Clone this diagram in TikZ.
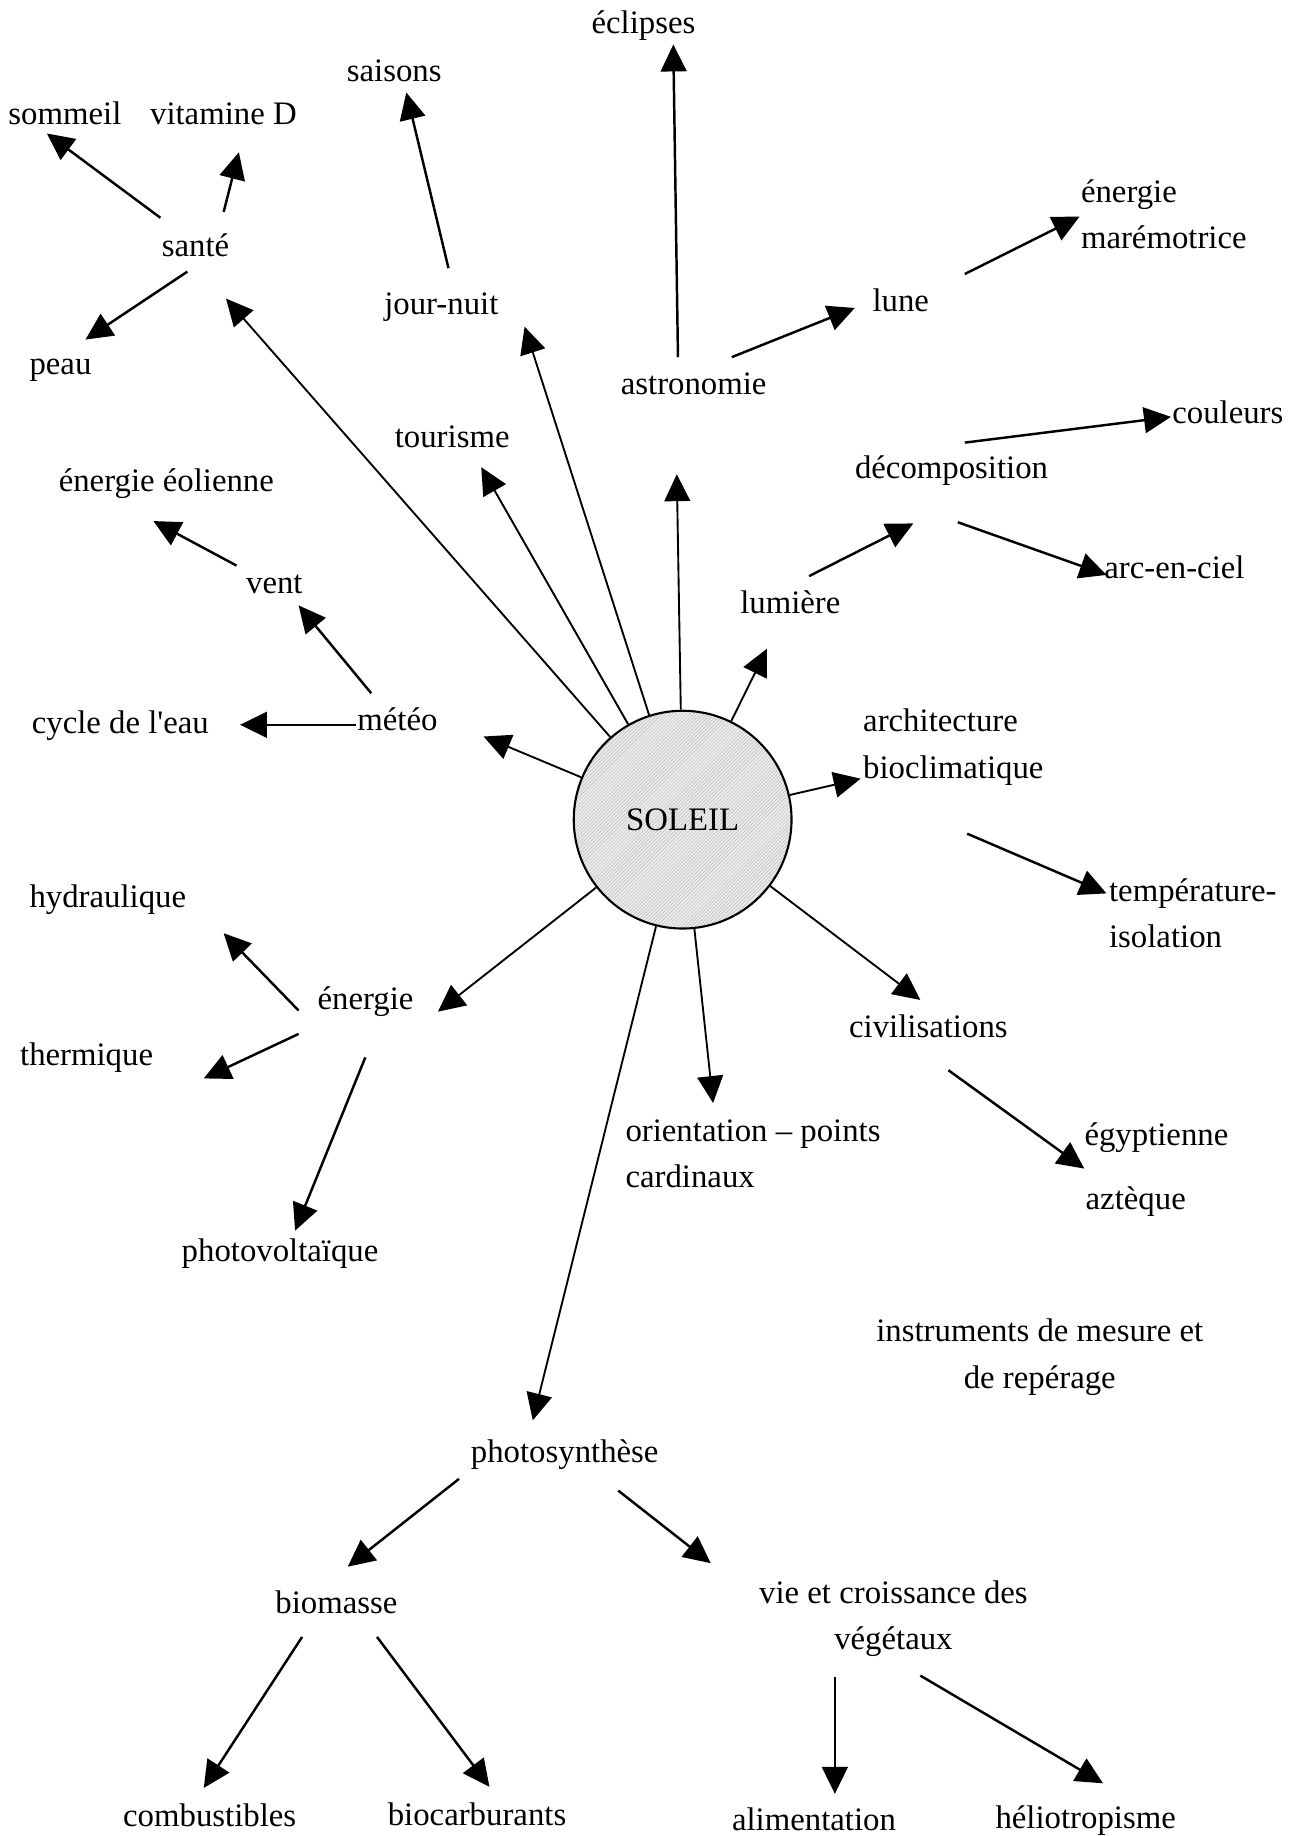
\documentclass[tikz,border=0pt]{standalone}
\usepackage{fontspec}
\setmainfont{Liberation Serif}[Ligatures=TeXOff]
\usetikzlibrary{arrows.meta,patterns}
\begin{document}
\begin{tikzpicture}[x=1pt,y=-1pt,
  lbl/.style={inner sep=0pt, font=\fontsize{28}{39.5}\selectfont},
  lw/.style={lbl, anchor=base west},
  lc/.style={lbl, anchor=base},
  arr/.style={line width=2.1pt, -{Triangle[length=23pt,width=22pt]}},
  ray/.style={line width=1.6pt, -{Triangle[length=23pt,width=22pt]}}]
\useasboundingbox (0,0) rectangle (1107,1568);
\fill[white] (0,0) rectangle (1107,1568);

% sun
\node[circle, draw, line width=1.8pt, minimum size=186pt, inner sep=0pt,
      preaction={fill=gray!14}, pattern=north east lines, pattern color=gray!55,
      font=\fontsize{28}{39.5}\selectfont] (sun) at (583,700) {SOLEIL};

% labels
\node[lw] (eclipses) at (505,29) {éclipses};
\node[lw] (saisons) at (296,70) {saisons};
\node[lw] (sommeil) at (7,106) {sommeil};
\node[lw] (vitd) at (128,106) {vitamine D};
\node[lw] (sante) at (138,219) {santé};
\node[lw] (peau) at (25,320) {peau};
\node[lw] (journuit) at (328,269) {jour-nuit};
\node[lw] (astro) at (530,337) {astronomie};
\node[lw] (lune) at (745,266) {lune};
\node[lw] (maree) at (923,173) {\begin{tabular}[t]{@{}l@{}}énergie\\marémotrice\end{tabular}};
\node[lw] (couleurs) at (1001,362) {couleurs};
\node[lw] (decomp) at (730,409) {décomposition};
\node[lw] (arc) at (943,494) {arc-en-ciel};
\node[lw] (lumiere) at (632,524) {lumière};
\node[lw] (tourisme) at (337,382) {tourisme};
\node[lw] (eolienne) at (50,420) {énergie éolienne};
\node[lw] (vent) at (210,507) {vent};
\node[lw] (cycle) at (27,626) {cycle de l'eau};
\node[lw] (meteo) at (305,624) {météo};
\node[lw] (archi) at (737,625) {\begin{tabular}[t]{@{}l@{}}architecture\\bioclimatique\end{tabular}};
\node[lw] (temp) at (947,770) {\begin{tabular}[t]{@{}l@{}}température-\\isolation\end{tabular}};
\node[lw] (hydrau) at (25,775) {hydraulique};
\node[lw] (energie) at (271,862) {énergie};
\node[lw] (thermique) at (17,910) {thermique};
\node[lw] (civ) at (725,886) {civilisations};
\node[lw] (orient) at (534,975) {\begin{tabular}[t]{@{}l@{}}orientation – points\\cardinaux\end{tabular}};
\node[lw] (egypt) at (926,978) {égyptienne};
\node[lw] (azteque) at (927,1033) {aztèque};
\node[lw] (photovolt) at (155,1077) {photovoltaïque};
\node[lc] (instr) at (888,1146) {\begin{tabular}[t]{@{}c@{}}instruments de mesure et\\de repérage\end{tabular}};
\node[lw] (photos) at (402,1249) {photosynthèse};
\node[lw] (biomasse) at (235,1378) {biomasse};
\node[lc] (vie) at (763,1369) {\begin{tabular}[t]{@{}c@{}}vie et croissance des\\végétaux\end{tabular}};
\node[lw] (comb) at (105,1560) {combustibles};
\node[lw] (biocarb) at (331,1559) {biocarburants};
\node[lw] (alim) at (625,1563) {alimentation};
\node[lw] (helio) at (850,1562) {héliotropisme};

% connector end points
\coordinate (eclA) at (579,305);   \coordinate (eclB) at (575,38);
\coordinate (saiA) at (383,229);   \coordinate (saiB) at (347,79);
\coordinate (somA) at (137,186);   \coordinate (somB) at (40,114);
\coordinate (vitA) at (191,181);   \coordinate (vitB) at (204,130);
\coordinate (peaA) at (160,232);   \coordinate (peaB) at (73,290);
\coordinate (sanB) at (193,255);
\coordinate (jnB) at (448,279);
\coordinate (touB) at (411,399);
\coordinate (astB) at (578,405);
\coordinate (lunA) at (625,305);   \coordinate (lunB) at (730,263);
\coordinate (marA) at (824,234);   \coordinate (marB) at (922,185);
\coordinate (couA) at (824,378);   \coordinate (couB) at (1000,356);
\coordinate (arcA) at (818,446);   \coordinate (arcB) at (945,491);
\coordinate (decA) at (691,492);   \coordinate (decB) at (780,447);
\coordinate (lumB) at (655,554);
\coordinate (archB) at (735,665);
\coordinate (tmpA) at (826,712);   \coordinate (tmpB) at (945,763);
\coordinate (civB) at (786,854);
\coordinate (egyA) at (810,914);   \coordinate (egyB) at (926,998);
\coordinate (oriB) at (609,942);
\coordinate (phoB) at (455,1213);
\coordinate (metB) at (413,629);
\coordinate (cycA) at (304,619);   \coordinate (cycB) at (205,619);
\coordinate (venA) at (317,592);   \coordinate (venB) at (255,517);
\coordinate (eolA) at (202,483);   \coordinate (eolB) at (131,445);
\coordinate (eneB) at (374,864);
\coordinate (hydA) at (255,863);   \coordinate (hydB) at (191,797);
\coordinate (theA) at (255,883);   \coordinate (theB) at (174,921);
\coordinate (pvA) at (312,903);    \coordinate (pvB) at (252,1051);
\coordinate (bioA) at (392,1263);  \coordinate (bioB) at (297,1338);
\coordinate (vieA) at (528,1273);  \coordinate (vieB) at (607,1335);
\coordinate (comA) at (258,1398);  \coordinate (comB) at (174,1527);
\coordinate (bcA) at (322,1398);   \coordinate (bcB) at (418,1526);
\coordinate (aliA) at (713,1432);  \coordinate (aliB) at (713,1532);
\coordinate (helA) at (786,1431);  \coordinate (helB) at (942,1523);

% rays from the sun
\draw[ray] (sun) -- (sanB);
\draw[ray] (sun) -- (jnB);
\draw[ray] (sun) -- (touB);
\draw[ray] (sun) -- (astB);
\draw[ray] (sun) -- (lumB);
\draw[ray] (sun) -- (archB);
\draw[ray] (sun) -- (civB);
\draw[ray] (sun) -- (oriB);
\draw[ray] (sun) -- (phoB);
\draw[ray] (sun) -- (metB);
\draw[ray] (sun) -- (eneB);

% secondary arrows
\draw[arr] (eclA) -- (eclB);
\draw[arr] (saiA) -- (saiB);
\draw[arr] (somA) -- (somB);
\draw[arr] (vitA) -- (vitB);
\draw[arr] (peaA) -- (peaB);
\draw[arr] (lunA) -- (lunB);
\draw[arr] (marA) -- (marB);
\draw[arr] (couA) -- (couB);
\draw[arr] (arcA) -- (arcB);
\draw[arr] (decA) -- (decB);
\draw[arr] (tmpA) -- (tmpB);
\draw[arr] (egyA) -- (egyB);
\draw[arr] (cycA) -- (cycB);
\draw[arr] (venA) -- (venB);
\draw[arr] (eolA) -- (eolB);
\draw[arr] (hydA) -- (hydB);
\draw[arr] (theA) -- (theB);
\draw[arr] (pvA) -- (pvB);
\draw[arr] (bioA) -- (bioB);
\draw[arr] (vieA) -- (vieB);
\draw[arr] (comA) -- (comB);
\draw[arr] (bcA) -- (bcB);
\draw[arr] (aliA) -- (aliB);
\draw[arr] (helA) -- (helB);
\end{tikzpicture}
\end{document}
